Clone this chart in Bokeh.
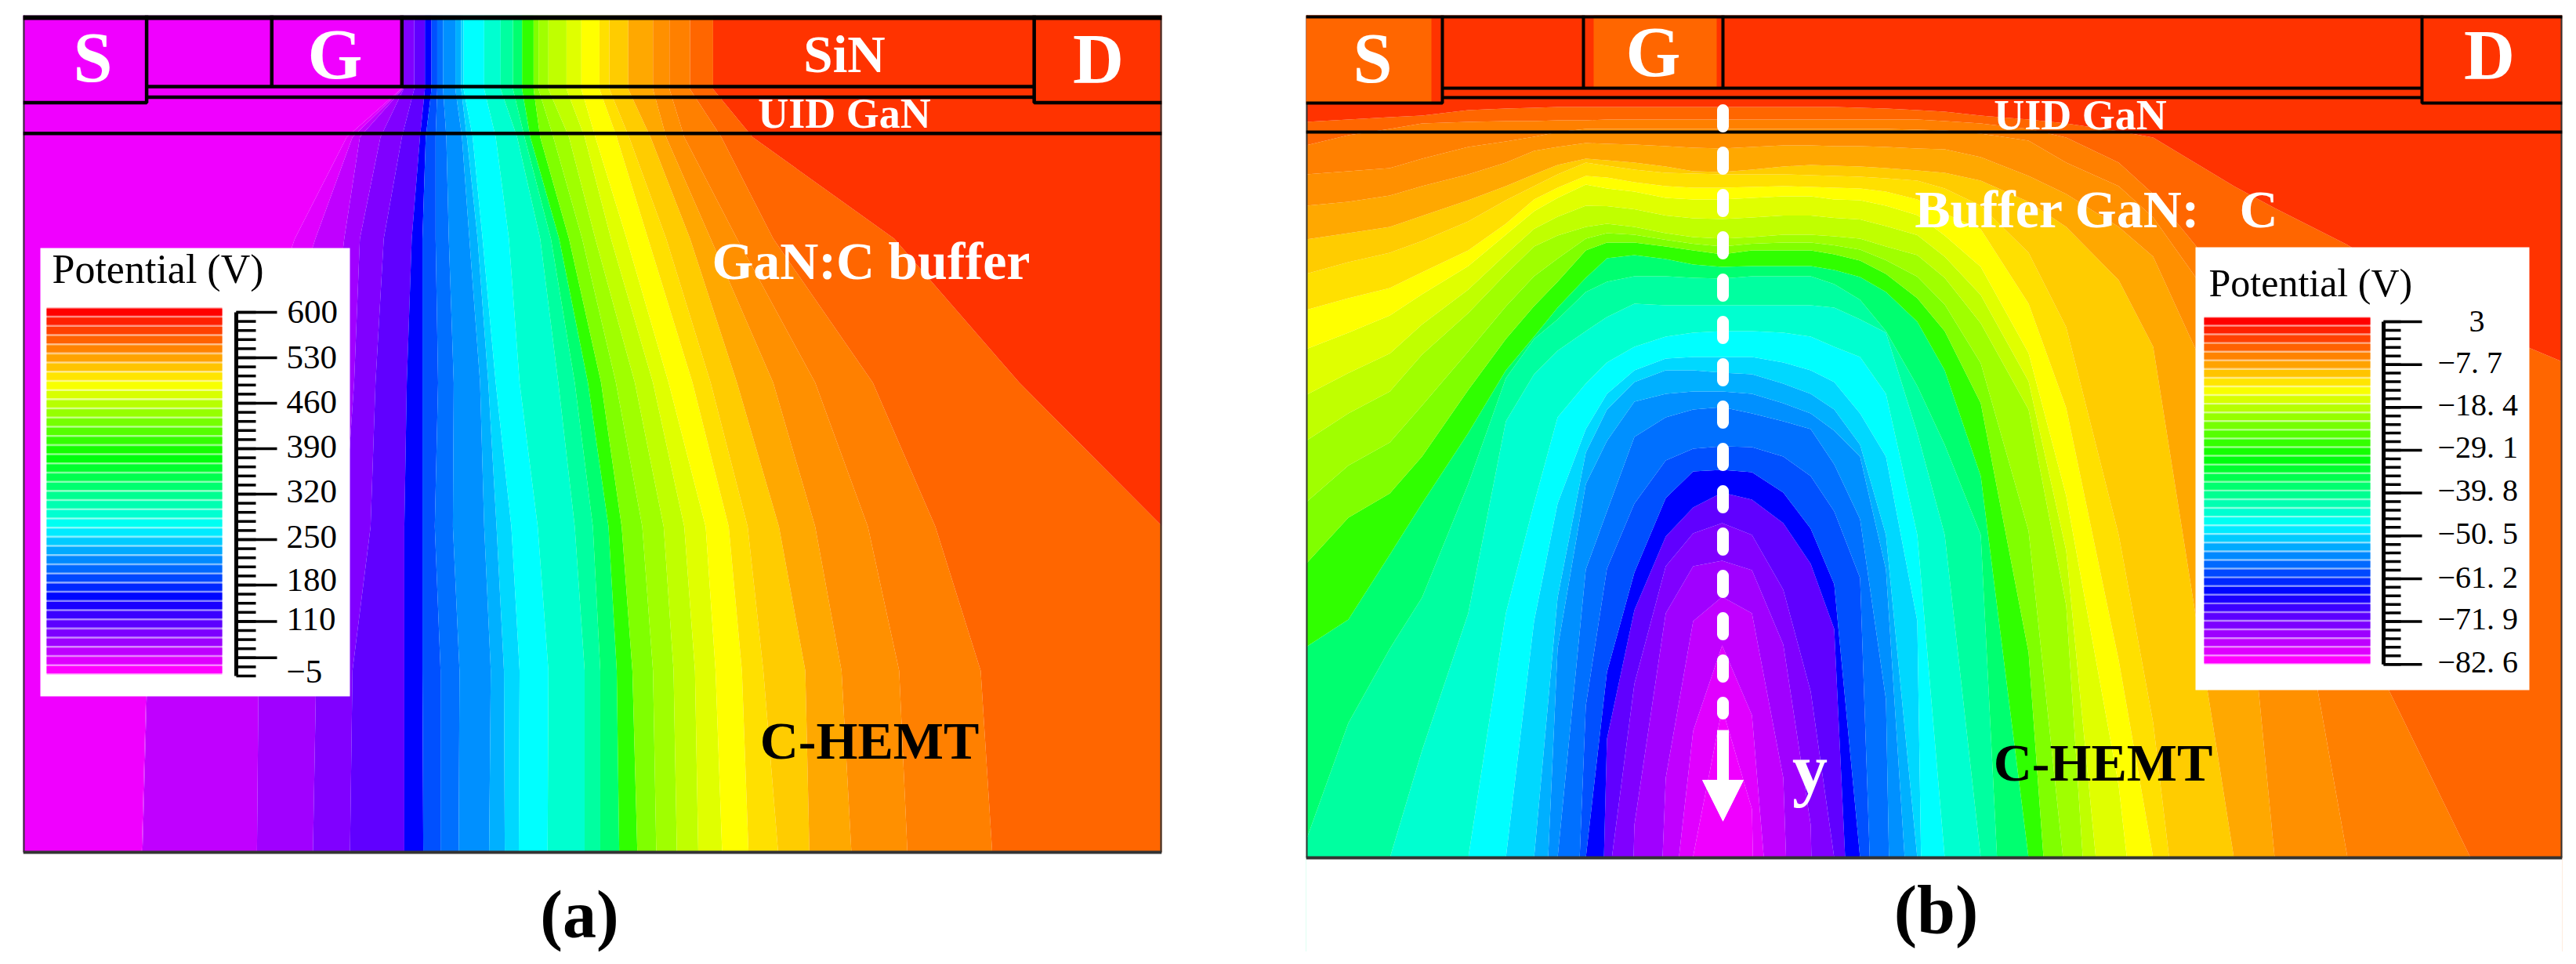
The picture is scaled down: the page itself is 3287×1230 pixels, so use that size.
import colorsys
from bokeh.plotting import figure
from bokeh.layouts import row
from bokeh.models import Range1d, Label, Arrow, NormalHead
from bokeh.embed import file_html
from bokeh.resources import INLINE

# ---- data ----
# colours of the bands seen in the two sections, lowest potential first
band_colors = ["#f000ff", "#e000ff", "#c000ff", "#a000ff", "#8000ff", "#6000ff", "#0000ff", "#0050ff",
               "#0070ff", "#0090ff", "#00b0ff", "#00d8ff", "#00ffff", "#00ffd0", "#00ffa0", "#00ff70",
               "#30ff00", "#80ff00", "#a0ff00", "#c0ff00", "#e0ff00", "#ffff00", "#ffe000", "#ffcc00",
               "#ffa800", "#ff9000", "#ff8000", "#ff6600", "#ff3300"]
legend_band_count = 40

a_rows_y = [30, 150, 228, 393, 627, 861, 1095, 1390]
a_isoline_levels = list(range(1, 29))
a_isoline_x = [
    [489, 490, 491, 492, 505, 518, 526, 533, 540, 555, 562, 565, 590, 610, 625, 636, 650, 656, 668, 690, 708, 730, 742, 765, 795, 815, 840, 868],
    [489, 490, 491, 492, 505, 518, 526, 533, 540, 555, 562, 565, 590, 610, 625, 636, 650, 656, 668, 690, 708, 730, 742, 765, 795, 815, 840, 868],
    [423, 430, 439, 464, 490, 512, 519, 531, 544, 563, 569, 576, 604, 630, 639, 646, 658, 674, 693, 712, 725, 751, 766, 792, 811, 833, 878, 916],
    [360, 385, 420, 439, 468, 502, 515, 531, 547, 572, 582, 588, 620, 658, 671, 681, 693, 709, 725, 744, 763, 789, 811, 840, 865, 897, 941, 1088],
    [300, 330, 400, 432, 458, 496, 515, 534, 553, 585, 595, 604, 633, 680, 700, 716, 732, 750, 773, 795, 814, 843, 865, 897, 941, 992, 1062, 1240],
    [225, 260, 340, 420, 452, 493, 515, 530, 552, 590, 605, 623, 655, 700, 722, 741, 757, 782, 808, 833, 859, 887, 910, 948, 992, 1056, 1138, 1414],
    [180, 181, 316, 386, 430, 493, 515, 537, 560, 598, 614, 633, 668, 712, 731, 751, 770, 795, 820, 846, 871, 903, 929, 980, 1024, 1094, 1193, 1500],
    [174, 175, 314, 382, 427, 493, 516, 537, 559, 596, 615, 632, 667, 712, 731, 754, 776, 799, 824, 850, 879, 911, 947, 985, 1036, 1104, 1207, 1500],
]

b_columns_x = [1666, 1720, 1773, 1814, 1873, 1921, 1957, 1987, 2023, 2050, 2085, 2125, 2160, 2197, 2235, 2275,
               2310, 2340, 2373, 2406, 2446, 2481, 2527, 2588, 2636, 2703, 2747, 2850, 2902, 2995, 3152, 3269]
# each isoline: depth where the band boundary crosses a column (columns left out: it lies below the section)
b_isolines = {
    1: {2160: 1100, 2197: 911, 2235: 1040},
    2: {2125: 1250, 2160: 940, 2197: 831, 2235: 920, 2275: 1400},
    3: {2085: 2000, 2125: 1000, 2160: 800, 2197: 769, 2235: 790, 2275: 1000, 2310: 2000},
    4: {2050: 2500, 2085: 1060, 2125: 790, 2160: 730, 2197: 723, 2235: 735, 2275: 830, 2310: 1060, 2340: 2500},
    5: {2050: 1150, 2085: 880, 2125: 730, 2160: 688, 2197: 675, 2235: 690, 2275: 760, 2310: 890, 2340: 1102},
    6: {2023: 2000, 2050: 950, 2085: 786, 2125: 692, 2160: 655, 2197: 636, 2235: 645, 2275: 675, 2310: 727, 2340: 810, 2373: 1500},
    7: {1987: 2500, 2023: 1102, 2050: 865, 2085: 738, 2125: 643, 2160: 609, 2197: 607, 2235: 610, 2275: 636, 2310: 682, 2340: 753, 2373: 1102, 2406: 2500},
    8: {1987: 1800, 2023: 908, 2050: 733, 2085: 650, 2125: 595, 2160: 580, 2197: 577, 2235: 578, 2275: 590, 2310: 615, 2340: 660, 2373: 745, 2406: 1700},
    9: {1987: 1102, 2023: 734, 2050: 660, 2085: 565, 2125: 540, 2160: 530, 2197: 527, 2235: 535, 2275: 545, 2310: 555, 2340: 600, 2373: 670, 2406: 900},
    10: {1957: 1500, 1987: 835, 2023: 625, 2050: 570, 2085: 520, 2125: 510, 2160: 507, 2197: 507, 2235: 510, 2275: 522, 2310: 535, 2340: 557, 2373: 590, 2406: 734, 2446: 1350},
    11: {1957: 1102, 1987: 770, 2023: 585, 2050: 530, 2085: 495, 2125: 480, 2160: 480, 2197: 483, 2235: 485, 2275: 497, 2310: 510, 2340: 530, 2373: 575, 2406: 690, 2446: 1102},
    12: {1921: 1102, 1957: 800, 1987: 650, 2023: 555, 2050: 510, 2085: 480, 2125: 465, 2160: 463, 2197: 463, 2235: 463, 2275: 470, 2310: 480, 2340: 495, 2373: 535, 2406: 590, 2446: 800},
    13: {1873: 1102, 1921: 790, 1957: 650, 1987: 540, 2023: 497, 2050: 470, 2085: 450, 2125: 437, 2160: 432, 2197: 430, 2235: 430, 2275: 432, 2310: 437, 2340: 450, 2373: 463, 2406: 510, 2446: 690, 2481: 1102},
    14: {1773: 1102, 1814: 965, 1873: 790, 1921: 545, 1957: 485, 1987: 455, 2023: 430, 2050: 412, 2085: 395, 2125: 397, 2160: 397, 2197: 397, 2235: 397, 2275: 397, 2310: 397, 2340: 400, 2373: 415, 2406: 432, 2446: 560, 2481: 690, 2527: 1102},
    15: {1666: 1080, 1720: 930, 1773: 835, 1814: 770, 1873: 625, 1921: 490, 1957: 440, 1987: 415, 2023: 380, 2050: 367, 2085: 360, 2125: 360, 2160: 362, 2197: 363, 2235: 360, 2275: 360, 2310: 360, 2340: 370, 2373: 390, 2406: 430, 2446: 500, 2481: 575, 2527: 690, 2588: 1900},
    16: {1666: 833, 1720: 798, 1773: 715, 1814: 650, 1873: 560, 1921: 480, 1957: 437, 1987: 400, 2023: 362, 2050: 337, 2085: 333, 2125: 338, 2160: 345, 2197: 348, 2235: 347, 2275: 347, 2310: 347, 2340: 352, 2373: 361, 2406: 380, 2446: 418, 2481: 480, 2527: 615, 2588: 1102},
    17: {1666: 727, 1720: 668, 1773: 637, 1814: 590, 1873: 505, 1921: 440, 1957: 398, 1987: 367, 2023: 327, 2050: 317, 2085: 317, 2125: 322, 2160: 327, 2197: 332, 2235: 327, 2275: 327, 2310: 327, 2340: 332, 2373: 340, 2406: 357, 2446: 388, 2481: 430, 2527: 522, 2588: 840, 2636: 1500},
    19: {1666: 570, 1720: 535, 1773: 507, 1814: 460, 1873: 407, 1921: 357, 1957: 322, 1987: 308, 2023: 297, 2050: 293, 2085: 297, 2125: 305, 2160: 310, 2197: 312, 2235: 310, 2275: 307, 2310: 307, 2340: 309, 2373: 312, 2406: 322, 2446: 333, 2481: 362, 2527: 420, 2588: 530, 2636: 780, 2703: 1800},
    21: {1666: 453, 1720: 432, 1773: 410, 1814: 383, 1873: 347, 1921: 307, 1957: 277, 1987: 260, 2023: 243, 2050: 248, 2085: 252, 2125: 260, 2160: 262, 2197: 262, 2235: 260, 2275: 258, 2310: 258, 2340: 262, 2373: 263, 2406: 270, 2446: 282, 2481: 308, 2527: 348, 2588: 458, 2636: 640, 2703: 1010, 2747: 1400},
    22: {1666: 403, 1720: 388, 1773: 375, 1814: 355, 1873: 327, 1921: 293, 1957: 262, 1987: 247, 2023: 232, 2050: 234, 2085: 240, 2125: 245, 2160: 247, 2197: 247, 2235: 246, 2275: 245, 2310: 246, 2340: 247, 2373: 248, 2406: 252, 2446: 262, 2481: 280, 2527: 300, 2588: 395, 2636: 528, 2703: 850, 2747: 1102},
    23: {1666: 357, 1720: 342, 1773: 330, 1814: 315, 1873: 290, 1921: 263, 1957: 245, 1987: 230, 2023: 215, 2050: 219, 2085: 224, 2125: 228, 2160: 229, 2197: 230, 2235: 230, 2275: 230, 2310: 231, 2340: 232, 2373: 233, 2406: 235, 2446: 238, 2481: 248, 2527: 270, 2588: 330, 2636: 425, 2703: 690, 2747: 930, 2850: 1800},
    24: {1666: 313, 1720: 305, 1773: 297, 1814: 283, 1873: 263, 1921: 245, 1957: 230, 1987: 218, 2023: 210, 2050: 212, 2085: 215, 2125: 220, 2160: 226, 2197: 227, 2235: 224, 2275: 220, 2310: 218, 2340: 219, 2373: 220, 2406: 222, 2446: 225, 2481: 228, 2527: 238, 2588: 265, 2636: 297, 2703: 365, 2747: 450, 2850: 1102},
    25: {1666: 270, 1720: 265, 1773: 257, 1814: 245, 1873: 230, 1921: 215, 1957: 200, 1987: 195, 2023: 190, 2050: 191, 2085: 192, 2125: 194, 2160: 196, 2197: 197, 2235: 195, 2275: 193, 2310: 193, 2340: 194, 2373: 194, 2406: 195, 2446: 197, 2481: 198, 2527: 208, 2588: 232, 2636: 255, 2703: 297, 2747: 335, 2850: 560, 2902: 1102},
    26: {1666: 230, 1720: 226, 1773: 222, 1814: 210, 1873: 195, 1921: 188, 1957: 182, 1987: 176, 2023: 172, 2050: 172, 2085: 172, 2125: 172, 2160: 172, 2197: 172, 2235: 172, 2275: 172, 2310: 172, 2340: 172, 2373: 172, 2406: 172, 2446: 173, 2481: 174, 2527: 178, 2588: 187, 2636: 215, 2703: 245, 2747: 285, 2850: 430, 2902: 580, 2995: 1102},
    27: {1666: 193, 1720: 180, 1773: 172, 1814: 165, 1873: 163, 1921: 162, 1957: 162, 1987: 161, 2023: 161, 2050: 160, 2085: 160, 2125: 160, 2160: 160, 2197: 160, 2235: 160, 2275: 160, 2310: 160, 2340: 160, 2373: 160, 2406: 160, 2446: 160, 2481: 162, 2527: 165, 2588: 172, 2636: 183, 2703: 215, 2747: 255, 2850: 380, 2902: 470, 2995: 780, 3152: 1102},
    28: {1666: 163, 1720: 160, 1773: 157, 1814: 155, 1873: 148, 1921: 146, 1957: 145, 1987: 144, 2023: 144, 2050: 144, 2085: 144, 2125: 144, 2160: 144, 2197: 144, 2235: 144, 2275: 144, 2310: 144, 2340: 144, 2373: 145, 2406: 146, 2446: 148, 2481: 150, 2527: 155, 2588: 160, 2636: 165, 2703: 175, 2747: 183, 2850: 245, 2902: 273, 2995: 320, 3152: 420, 3269: 469},
}
BELOW_SECTION = 3000

legend_a_labels = ["600", "530", "460", "390", "320", "250", "180", "110", "\u22125"]
legend_a_major = [0, 5, 10, 15, 20, 25, 30, 34, 38]
legend_b_labels = ["3", "\u22127. 7", "\u221218. 4", "\u221229. 1", "\u221239. 8", "\u221250. 5", "\u221261. 2", "\u221271. 9", "\u221282. 6"]
legend_b_major = [0, 5, 10, 15, 20, 25, 30, 35, 40]

legend_palette = ["#%02x%02x%02x" % tuple(int(round(c * 255)) for c in colorsys.hsv_to_rgb((300 * (1 - k / 39)) / 360, 1, 1))
                  for k in range(legend_band_count)]
contour_levels = list(range(0, len(band_colors) + 1))
SERIF = "Liberation Serif"


def make_panel(px_x, px_y, xr, yr, left, right, top):
    p = figure(frame_width=px_x[1] - px_x[0], frame_height=px_y[1] - px_y[0],
               x_range=Range1d(*xr), y_range=Range1d(*yr),
               min_border_left=left, min_border_right=right, min_border_top=top, min_border_bottom=0,
               x_axis_type=None, y_axis_type=None, toolbar_location=None, output_backend="svg",
               background_fill_color="white", border_fill_color="white")
    p.grid.visible = False
    p.outline_line_color = None
    p.extra_x_ranges["px"] = Range1d(*px_x)
    p.extra_y_ranges["px"] = Range1d(px_y[1], px_y[0])
    return p


def section_border(p, left, right, top, bottom):
    # white caption strip below the section, then the thin section border
    p.quad(left=[left - 5], right=[right + 5], top=[bottom], bottom=[bottom + 300], fill_color="white", line_color=None,
           x_range_name="px", y_range_name="px")
    p.multi_line([[left, left], [right, right], [left, right]], [[top, bottom], [top, bottom], [bottom, bottom]],
                 line_color="#333333", line_width=4, x_range_name="px", y_range_name="px")


def label(p, x, y, text, size, color="white", style="bold", align="center"):
    p.add_layout(Label(x=x, y=y, x_range_name="px", y_range_name="px", text=text,
                       text_font=SERIF, text_font_size=f"{size}px", text_font_style=style,
                       text_color=color, text_align=align, text_baseline="middle"))


def legend(p, box, bars, spine, minor_to, major_to, tick_top, tick_step, labels, majors, label_pos, title_pos, title_size, num_size):
    kw = dict(x_range_name="px", y_range_name="px")
    p.quad(left=[box[0]], right=[box[1]], top=[box[2]], bottom=[box[3]], fill_color="white", line_color=None, **kw)
    bh = (bars[3] - bars[2]) / legend_band_count
    lefts = [bars[0]] * legend_band_count
    rights = [bars[1]] * legend_band_count
    tops = [bars[2] + i * bh for i in range(legend_band_count)]
    colors = legend_palette[::-1]
    p.quad(left=lefts, right=rights, top=tops, bottom=[t + bh for t in tops], fill_color=colors, fill_alpha=0.5, line_color=None, **kw)
    p.quad(left=lefts, right=rights, top=[t + 0.1 * bh for t in tops], bottom=[t + 0.88 * bh for t in tops], fill_color=colors, line_color=None, **kw)
    ys = [tick_top + i * tick_step for i in range(41)]
    p.segment(x0=[spine] * 41, x1=[minor_to] * 41, y0=ys, y1=ys, line_color="black", line_width=3.5, **kw)
    my = [tick_top + m * tick_step for m in majors]
    p.segment(x0=[spine] * len(my), x1=[major_to] * len(my), y0=my, y1=my, line_color="black", line_width=3.5, **kw)
    p.segment(x0=[spine], x1=[spine], y0=[ys[0]], y1=[ys[-1]], line_color="black", line_width=5, **kw)
    label(p, title_pos[0], title_pos[1], "Potential (V)", title_size, "black", "normal", "left")
    for t, (lx, ly, al) in zip(labels, label_pos):
        label(p, lx, ly, t, num_size, "black", "normal", al)


# ---------------- panel (a) ----------------
# section spans x 30..1413, depth 30..1390; the frame also holds the caption strip beneath it
pa = make_panel((29, 1482), (22, 1222), (30, 1413), (1390 + (1222 - 1090) * 1360 / 1068, 30), 29, 168, 14)
ax = [[0] + r + [1700] for r in a_isoline_x]
ay = [[yy] * (len(a_isoline_levels) + 2) for yy in a_rows_y]
az = [[0] + a_isoline_levels + [29] for _ in a_rows_y]
pa.contour(ax, ay, az, contour_levels, fill_color=band_colors, line_color=None)
section_border(pa, 29, 1482, 22, 1090)

a_lines_x = [[180, 1258], [180, 1258], [30, 1413], [30, 180, 180], [332, 332], [490, 490], [1258, 1258, 1413]]
a_lines_y = [[146, 146], [163, 163], [222, 222], [172, 172, 30], [30, 146], [30, 146], [30, 172, 172]]
pa.multi_line(a_lines_x, a_lines_y, line_color="black", line_width=4.5)
pa.line([30, 1413], [30, 30], line_color="black", line_width=12)

for x, y, t, s, c in [(118, 76, "S", 90, "white"), (427, 72, "G", 90, "white"), (1077, 71, "SiN", 67, "white"),
                      (1401, 78, "D", 90, "white"), (1077, 147, "UID GaN", 54, "white"),
                      (1111, 335, "GaN:C buffer", 68, "white"), (1109, 947, "C-HEMT", 68, "black")]:
    label(pa, x, y, t, s, c)

legend(pa, (51, 446, 319, 891), (59, 283, 395, 863), 301, 326, 353, 401, 11.6,
       legend_a_labels, legend_a_major,
       [(366, 400, "left"), (365, 458, "left"), (365, 515, "left"), (365, 572, "left"), (365, 629, "left"),
        (365, 687, "left"), (365, 742, "left"), (365, 792, "left"), (365, 859, "left")],
       (66, 346), 52, 43)
label(pa, 739, 1169, "(a)", 86, "black")

# ---------------- panel (b) ----------------
pb = make_panel((1666, 3269), (27, 1222), (1666, 3269), (1222, 27), 16, 3, 19)
b_levels = sorted(b_isolines)
bx = [list(b_columns_x) for _ in range(len(b_levels) + 2)]
by = [[4000] * len(b_columns_x)] + [[b_isolines[lv].get(c, BELOW_SECTION) for c in b_columns_x] for lv in b_levels] + [[-100] * len(b_columns_x)]
bz = [[0] * len(b_columns_x)] + [[lv] * len(b_columns_x) for lv in b_levels] + [[29] * len(b_columns_x)]
pb.contour(bx, by, bz, contour_levels, fill_color=band_colors, line_color=None)
section_border(pb, 1666, 3269, 27, 1102)

# the metal contacts carry their own potential
b_contact_left = [1666, 2033]
b_contact_right = [1826, 2190]
b_contact_bottom = [139, 120]
pb.quad(left=b_contact_left, right=b_contact_right, top=[27, 27], bottom=b_contact_bottom, fill_color=band_colors[27], line_color=None)

b_lines_x = [[1840, 3090], [1840, 3090], [1666, 3269], [1666, 1840, 1840], [2020, 2020], [2198, 2198], [3090, 3090, 3269]]
b_lines_y = [[120, 120], [132, 132], [176, 176], [139, 139, 27], [27, 120], [27, 120], [27, 139, 139]]
pb.multi_line(b_lines_x, b_lines_y, line_color="black", line_width=4)
pb.line([1666, 3269], [27, 27], line_color="black", line_width=8)

pb.line([2198, 2198], [148, 918], line_color="white", line_width=15, line_dash="21 33", line_cap="round")
pb.add_layout(Arrow(end=NormalHead(size=52, fill_color="white", line_color="white", line_width=1),
                    x_start=2198, y_start=939, x_end=2198, y_end=1055, line_color="white", line_width=15))

for x, y, t, s, c in [(1751, 82, "S", 90, "white"), (2109, 74, "G", 90, "white"), (3176, 78, "D", 90, "white"),
                      (2654, 154, "UID GaN", 54, "white"), (2675, 274, "Buffer GaN:\u00a0\u00a0\u00a0C", 68, "white"),
                      (2683, 980, "C-HEMT", 68, "black"), (2309, 989, "y", 90, "white")]:
    label(pb, x, y, t, s, c)

legend(pb, (2801, 3227, 323, 888), (2812, 3024, 412, 855), 3041, 3063, 3090, 418, 10.93,
       legend_b_labels, legend_b_major,
       [(3160, 417, "center")] + [(3110, y, "left") for y in (470, 524, 578, 633, 688, 744, 797, 852)],
       (2818, 368), 50, 40)
label(pb, 2470, 1169, "(b)", 88, "black")

open("out.html", "w").write(file_html(row(pa, pb, spacing=0), INLINE))
